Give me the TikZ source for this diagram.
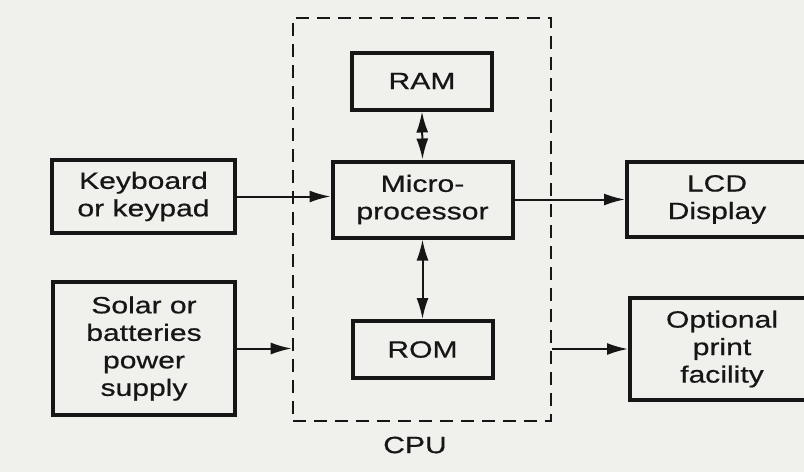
\documentclass[tikz,border=0pt]{standalone}
\usepackage{fontspec}
\setmainfont{Liberation Sans}[FakeStretch=1.28,FakeBold=0.6]
\usetikzlibrary{arrows.meta}
\definecolor{paper}{RGB}{240,240,237}
\definecolor{ink}{RGB}{22,22,22}
\begin{document}
\begin{tikzpicture}[x=1pt,y=1pt,
  blk/.style={draw=ink, line width=4pt, inner sep=0pt, align=center, text=ink,
    font=\fontsize{23.5}{27.5}\selectfont},
  tip/.tip={Latex[length=21pt,width=12pt]},
  conn/.style={draw=ink, line width=2pt, -tip},
  biconn/.style={draw=ink, line width=2pt, tip-tip},
  cpubox/.style={draw=ink, line width=2.6pt, dash pattern=on 13pt off 8pt, inner sep=0pt}]
\useasboundingbox (0,0) rectangle (804,-472);
\fill[paper] (0,0) rectangle (804,-472);
\clip (0,0) rectangle (804,-472);
% CPU dashed boundary
\node[cpubox, minimum width=258pt, minimum height=403pt] (cpu) at (422,-219.5) {};
\node[text=ink, font=\fontsize{23.5}{27.5}\selectfont] (cpulabel) at (415,-445) {CPU};
% blocks
\node[blk, minimum width=140pt, minimum height=57pt] (ram) at (422,-81) {RAM};
\node[blk, minimum width=180pt, minimum height=76pt] (mp) at (422.5,-199.5) {Micro-\\processor};
\node[blk, minimum width=140pt, minimum height=57pt] (rom) at (422.5,-349.5) {ROM};
\node[blk, minimum width=183pt, minimum height=73pt] (kb) at (143.5,-196.5) {Keyboard\\or keypad};
\node[blk, minimum width=182pt, minimum height=133pt] (ps) at (144,-348.5) {Solar or\\batteries\\power\\supply};
\node[blk, minimum width=180pt, minimum height=75pt] (lcd) at (717,-199.5) {LCD\\Display};
\node[blk, minimum width=184pt, minimum height=102pt] (prn) at (722,-349) {Optional\\print\\facility};
% connectors
\draw[biconn] (ram.south) -- (mp.north);
\draw[biconn] (mp.south) -- (rom.north);
\draw[conn] (kb.east) -- (kb.east -| mp.west);
\draw[conn] (mp.east) -- (mp.east -| lcd.west);
\draw[conn] (ps.east) -- (ps.east -| cpu.west);
\draw[conn] (prn.west -| cpu.east) -- (prn.west);
\end{tikzpicture}
\end{document}
